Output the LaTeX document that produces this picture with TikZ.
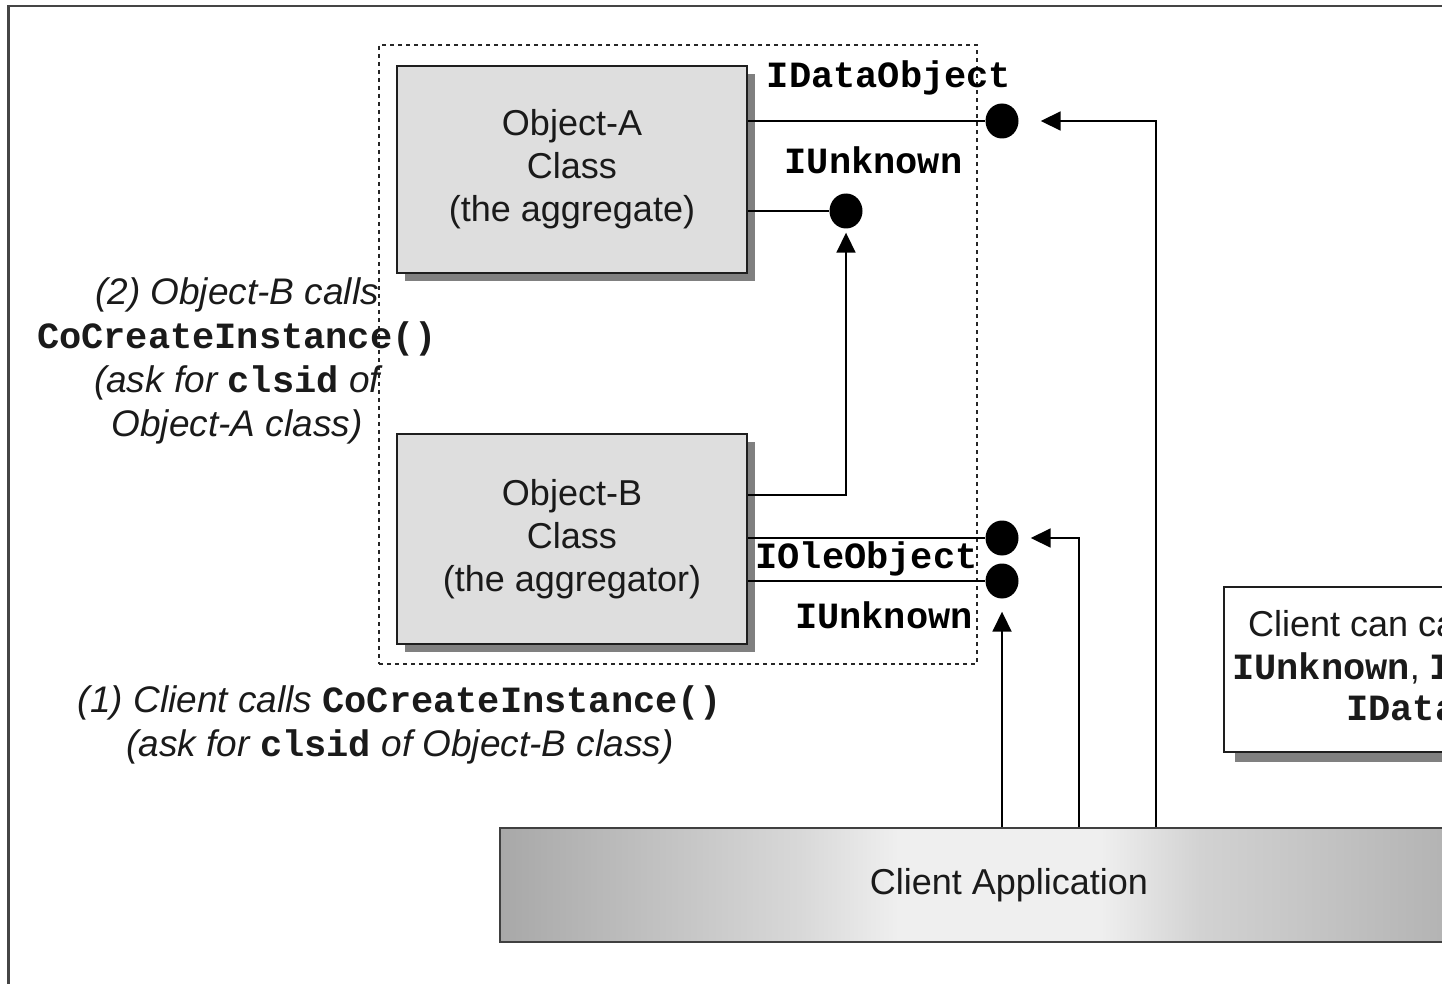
\documentclass[tikz,border=0pt]{standalone}
\usepackage{fontspec}
\setmainfont{Liberation Sans}
\newfontfamily\cmono{Liberation Mono}
\usetikzlibrary{arrows.meta,calc,shapes.geometric,shadows}

\definecolor{boxfill}{HTML}{DEDEDE}
\definecolor{boxline}{HTML}{1E1E1E}
\definecolor{shadowgray}{HTML}{808080}
\definecolor{framegray}{HTML}{454545}
\definecolor{barA}{HTML}{A8A8A8}
\definecolor{barB}{HTML}{D8D8D8}
\definecolor{barC}{HTML}{EFEFEF}
\definecolor{barD}{HTML}{D2D2D2}
\definecolor{barE}{HTML}{C6C6C6}
\definecolor{barF}{HTML}{B4B4B4}
\definecolor{inkgray}{HTML}{1A1A1A}

% light plateau in the middle, darker towards both ends
\pgfdeclarehorizontalshading{barshade}{100bp}{%
  color(0bp)=(barA); color(25bp)=(barA); color(39.7bp)=(barB);
  color(44.6bp)=(barC); color(54.5bp)=(barC); color(59.4bp)=(barD);
  color(64.3bp)=(barE); color(71.2bp)=(barF); color(75bp)=(barA);
  color(100bp)=(barA)}

\newcommand{\monokw}[1]{{\cmono\bfseries\upshape\fontsize{37}{43}\selectfont #1}}

\begin{document}
\begin{tikzpicture}[x=1pt,y=-1pt,
  sans/.style={font=\fontsize{36}{43}\selectfont, text=inkgray},
  itext/.style={font=\fontsize{37}{44}\selectfont\itshape, text=inkgray, align=center, inner sep=0pt},
  mlabel/.style={font=\cmono\bfseries\fontsize{37}{43}\selectfont, text=black, inner sep=0pt, anchor=base},
  objbox/.style={draw=boxline, line width=2pt, fill=boxfill, minimum width=350pt,
    align=center, sans,
    drop shadow={shadow xshift=8pt, shadow yshift=-8pt, fill=shadowgray, opacity=1}},
  notebox/.style={draw=boxline, line width=2pt, fill=white, minimum width=500pt, minimum height=165pt,
    drop shadow={shadow xshift=11pt, shadow yshift=-10pt, fill=shadowgray, opacity=1}},
  barbox/.style={draw=black!75, line width=2pt, shading=barshade, minimum width=1018pt,
    minimum height=114pt, sans},
  groupbox/.style={draw=black!85, line width=1.3pt, dash pattern=on 4pt off 4pt,
    minimum width=598pt, minimum height=619pt},
  lolli/.style={ellipse, fill=black, minimum width=33pt, minimum height=35pt, inner sep=0pt},
  conn/.style={draw=black, line width=1.8pt},
  arr/.style={-{Triangle[length=20pt,width=19pt]}},
]
\useasboundingbox (0,0) rectangle (1442,984);
\clip (0,0) rectangle (1442,984);

% outer frame (runs past the right and bottom edges)
\draw[framegray, line width=2.5pt] (8.5,6) rectangle (1500,1050);

% dashed group around the two classes
\node[groupbox] (grp) at (678,354.5) {};

% the two classes
\node[objbox, minimum height=207pt] (objA) at (572,169.5) {Object-A\\Class\\(the aggregate)};
\node[objbox, minimum height=210pt] (objB) at (572,539) {Object-B\\Class\\(the aggregator)};

% interface lollipops
\node[lolli] (dDA) at (1002,121) {};
\node[lolli] (dUA) at (846,211) {};
\node[lolli] (dOle) at (1002,538) {};
\node[lolli] (dUB) at (1002,581) {};

\draw[conn] (objA.east |- dDA) -- (dDA);
\draw[conn] (objA.east |- dUA) -- (dUA);
\draw[conn] (objB.east |- dOle) -- (dOle);
\draw[conn] (objB.east |- dUB) -- (dUB);

% interface names
\node[mlabel] (lDA) at (889,88) {IDataObject};
\node[mlabel] (lUA) at (873.5,174) {IUnknown};
\node[mlabel] (lOle) at (866.5,568) {IOleObject};
\node[mlabel] (lUB) at (884,628) {IUnknown};

% client application
\node[barbox] (client) at (1009,885) {Client Application};
\coordinate (cUnk) at (client.north -| dUB);
\coordinate (cOle) at ($(client.north west)+(580,0)$);
\coordinate (cData) at ($(client.north west)+(657,0)$);

% calls into the interfaces
\draw[conn, arr, shorten >=13pt] (cUnk) -- (dUB);
\draw[conn, arr, shorten >=12pt] (cOle) |- (dOle);
\draw[conn, arr, shorten >=22pt] (cData) |- (dDA);
\draw[conn, arr, shorten >=4pt] ($(objB.east)+(0,-44)$) -| (dUA);

% step notes
\node[itext] (stepTwo) at (237,361) {(2) Object-B calls\\\monokw{CoCreateInstance()}\\(ask for \monokw{clsid} of\\Object-A class)};
\node[itext] (stepOne) at (400,724.5) {(1) Client calls \monokw{CoCreateInstance()}\\(ask for \monokw{clsid} of Object-B class)};

% what the client may call
\node[notebox] (clientNote) at (1474,669.5) {};
\node[sans, inner sep=0pt, anchor=base west] (noteL1) at (1248,636) {Client can call};
\node[sans, inner sep=0pt, anchor=base west] (noteL2) at (1232,679) {\monokw{IUnknown}, \monokw{IOleObject},};
\node[sans, inner sep=0pt, anchor=base west] (noteL3) at (1346,720) {\monokw{IDataObject}};
\end{tikzpicture}
\end{document}
